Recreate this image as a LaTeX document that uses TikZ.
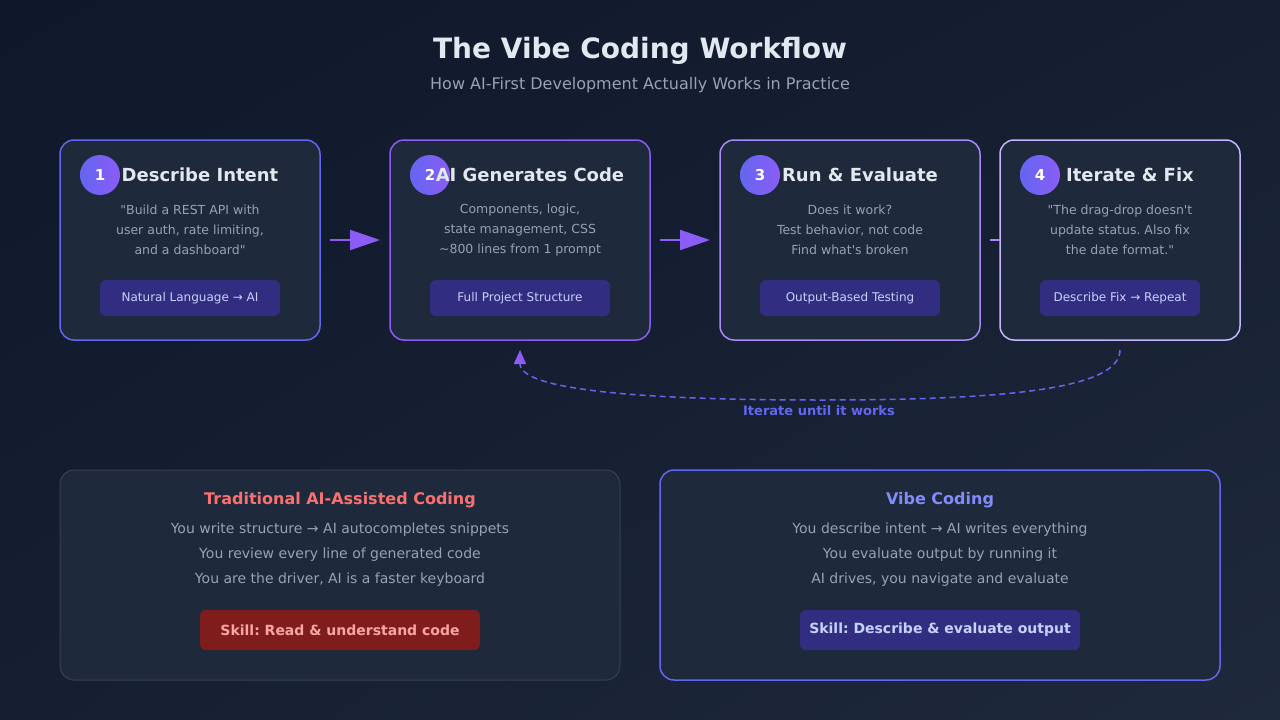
\documentclass[tikz,border=0pt]{standalone}
\usepackage{fontspec}
\setmainfont{DejaVu Sans}
\usetikzlibrary{arrows.meta,shadings}
\definecolor{bgA}{HTML}{0F172A}
\definecolor{bgB}{HTML}{1E293B}
\definecolor{bgM}{HTML}{161F32}
\definecolor{cardc}{HTML}{1E293B}
\definecolor{indigo}{HTML}{6366F1}
\definecolor{violet}{HTML}{8B5CF6}
\definecolor{lviolet}{HTML}{A78BFA}
\definecolor{pviolet}{HTML}{C4B5FD}
\definecolor{badge}{HTML}{312E81}
\definecolor{badgetxt}{HTML}{C7D2FE}
\definecolor{titletxt}{HTML}{E2E8F0}
\definecolor{subtxt}{HTML}{94A3B8}
\definecolor{slateb}{HTML}{334155}
\definecolor{redt}{HTML}{F87171}
\definecolor{redb}{HTML}{7F1D1D}
\definecolor{redbt}{HTML}{FCA5A5}
\definecolor{indt}{HTML}{818CF8}
\frenchspacing
\begin{document}
\begin{tikzpicture}[x=1pt,y=-1pt,
  box/.style 2 args={draw=#1,line width=1.5pt,fill=cardc,rounded corners=14pt,minimum width=#2,inner sep=0pt},
  card/.style={box={#1}{260pt},minimum height=200pt},
  bdg/.style={fill=#1,rounded corners=6pt,minimum height=36pt,inner sep=0pt},
  btxt/.style={bdg=badge,text=badgetxt,font=\fontsize{12}{14}\selectfont},
  body/.style={text=subtxt,font=\fontsize{12.5}{20}\selectfont,align=center},
  stitle/.style={text=titletxt,font=\bfseries\fontsize{18}{20}\selectfont},
  num/.style={circle,minimum size=40pt,inner sep=0pt,left color=indigo,right color=violet,text=white,font=\bfseries\fontsize{15}{17}\selectfont},
  flow/.style={violet,line width=2pt},
  bl/.style={text=subtxt,font=\fontsize{14}{16}\selectfont}]
\shade[upper left=bgA,lower right=bgB,upper right=bgM,lower left=bgM] (0,0) rectangle (1280,720);
\useasboundingbox (0,0) rectangle (1280,720);
\node[text=titletxt,font=\bfseries\fontsize{28}{32}\selectfont] (title) at (640,51) {The Vibe Coding Workflow};
\node[text=subtxt,font=\fontsize{16}{18}\selectfont] (sub) at (640,85) {How AI-First Development Actually Works in Practice};
% cards
\node[card=indigo] (c1) at (190,240) {};
\node[card=violet] (c2) at (520,240) {};
\node[card=lviolet] (c3) at (850,240) {};
\node[box={pviolet}{240pt},minimum height=200pt] (c4) at (1120,240) {};
\node[num] (n1) at (100,175) {1};
\node[num] (n2) at (430,175) {2};
\node[num] (n3) at (760,175) {3};
\node[num] (n4) at (1040,175) {4};
\node[stitle] (t1) at (200,175) {Describe Intent};
\node[stitle] (t2) at (530,175) {AI Generates Code};
\node[stitle] (t3) at (860,175) {Run \& Evaluate};
\node[stitle] (t4) at (1130,175) {Iterate \& Fix};
\node[body] (b1) at (190,230) {\textquotedbl Build a REST API with\\user auth, rate limiting,\\and a dashboard\textquotedbl};
\node[body] (b2) at (520,230) {Components, logic,\\state management, CSS\\\textasciitilde800 lines from 1 prompt};
\node[body] (b3) at (850,230) {Does it work?\\Test behavior, not code\\Find what\textquotesingle s broken};
\node[body] (b4) at (1120,230) {\textquotedbl The drag-drop doesn\textquotesingle t\\update status. Also fix\\the date format.\textquotedbl};
\node[btxt,minimum width=180pt] (g1) at (190,298) {Natural Language → AI};
\node[btxt,minimum width=180pt] (g2) at (520,298) {Full Project Structure};
\node[btxt,minimum width=180pt] (g3) at (850,298) {Output-Based Testing};
\node[btxt,minimum width=160pt] (g4) at (1120,298) {Describe Fix → Repeat};
% flow arrows
\coordinate (a1s) at (330,240); \coordinate (a1e) at (380,240);
\coordinate (a2s) at (660,240); \coordinate (a2e) at (710,240);
\coordinate (a3s) at (990,240); \coordinate (a3e) at (1000,240);
\draw[flow,-{Triangle[length=30pt,width=20pt]}] (a1s) -- (a1e);
\draw[flow,-{Triangle[length=30pt,width=20pt]}] (a2s) -- (a2e);
\draw[lviolet,line width=2pt] (a3s) -- (a3e);
% loop
\coordinate (ls) at (1120,350); \coordinate (le) at (520,350);
\draw[indigo,line width=1.5pt,dash pattern=on 6pt off 4pt,-{Triangle[length=14pt,width=12pt,fill=violet,color=violet]}]
  (ls) .. controls (1120,390) and (1000,400) .. (820,400) .. controls (640,400) and (520,390) .. (le);
\node[text=indigo,font=\bfseries\fontsize{13}{15}\selectfont] (lt) at (819,411) {Iterate until it works};
% bottom
\node[box={slateb}{560pt},line width=1pt,minimum height=210pt] (L) at (340,575) {};
\node[box={indigo}{560pt},minimum height=210pt] (R) at (940,575) {};
\node[text=redt,font=\bfseries\fontsize{16}{18}\selectfont] (lt1) at (340,500) {Traditional AI-Assisted Coding};
\node[bl] (l1) at (340,530) {You write structure → AI autocompletes snippets};
\node[bl] (l2) at (340,555) {You review every line of generated code};
\node[bl] (l3) at (340,580) {You are the driver, AI is a faster keyboard};
\node[bdg=redb,minimum width=280pt,minimum height=40pt,text=redbt,font=\bfseries\fontsize{14}{16}\selectfont] (ls1) at (340,630) {Skill: Read \& understand code};
\node[text=indt,font=\bfseries\fontsize{16}{18}\selectfont] (rt1) at (940,500) {Vibe Coding};
\node[bl] (r1) at (940,530) {You describe intent → AI writes everything};
\node[bl] (r2) at (940,555) {You evaluate output by running it};
\node[bl] (r3) at (940,580) {AI drives, you navigate and evaluate};
\node[bdg=badge,minimum width=280pt,minimum height=40pt,text=badgetxt,font=\bfseries\fontsize{14}{16}\selectfont] (rs1) at (940,630) {Skill: Describe \& evaluate output};
\end{tikzpicture}
\end{document}
